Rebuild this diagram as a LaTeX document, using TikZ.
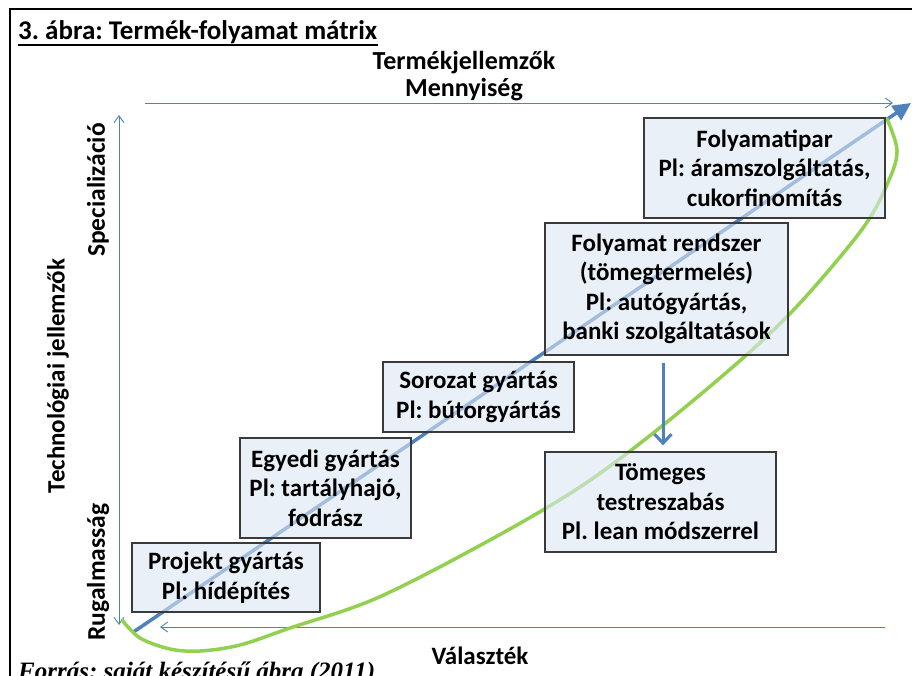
\documentclass[tikz,border=0pt]{standalone}
\usepackage{fontspec}
\setmainfont{Carlito}
\newfontfamily\srcfont{Liberation Serif}
\usetikzlibrary{arrows.meta,calc}
\definecolor{axisblue}{HTML}{4F81BD}
\definecolor{curvegreen}{HTML}{92D050}
\definecolor{boxfill}{HTML}{DCE6F2}
\definecolor{boxline}{HTML}{3A3A3A}
\frenchspacing

\begin{document}
\begin{tikzpicture}[x=1pt,y=-1pt,
  lbl/.style={font=\fontsize{26}{31}\selectfont\bfseries, inner sep=0pt, align=center},
  stagebox/.style={draw=boxline, line width=1.3pt, fill=boxfill, fill opacity=0.6,
    draw opacity=1, text opacity=1, align=center,
    font=\fontsize{25}{29.5}\selectfont\bfseries, inner sep=0pt},
  thinaxis/.style={draw=axisblue, line width=0.9pt,
    arrows={-Straight Barb[length=7pt,width=10pt]}},
  mainarrow/.style={draw=axisblue, line width=3.5pt,
    arrows={-Triangle[length=18pt,width=17pt]}},
  downarrow/.style={draw=axisblue, line width=3pt,
    arrows={-Straight Barb[length=9pt,width=17pt]}},
  trend/.style={draw=curvegreen, line width=3.5pt, line cap=round},
  ]
\useasboundingbox (0,0) rectangle (912,676);
\clip (0,0) rectangle (912,676);

% frame
\draw[line width=2pt] (10,680) -- (10,9) -- (915,9);

% title
\node[anchor=base west, inner sep=0pt, font=\fontsize{27}{32}\selectfont\bfseries]
  (title) at (18,40) {3. ábra: Termék-folyamat mátrix};
\draw[line width=2pt] (title.base west) ++(0,5) -- ($(title.base east)+(0,5)$);

% axis end points
\coordinate (topL) at (145,103);
\coordinate (topR) at (893,103);
\coordinate (vTop) at (119,115);
\coordinate (vBot) at (119,625);
\coordinate (botR) at (885,627);
\coordinate (botL) at (160,627);
\coordinate (dStart) at (132,633);
\coordinate (dEnd) at (911,103);

% axes
\draw[thinaxis] (topL) -- (topR);
\draw[thinaxis, arrows={Straight Barb[length=7pt,width=10pt]-Straight Barb[length=7pt,width=10pt]}] (vBot) -- (vTop);
\draw[thinaxis] (botR) -- (botL);

% axis labels
\node[lbl, anchor=base] (tjl) at (464,70) {Termékjellemzők};
\node[lbl, anchor=base] (mny) at (464,97) {Mennyiség};
\node[lbl, anchor=base, font=\fontsize{25}{30}\selectfont\bfseries] (val) at (480,664) {Választék};
\node[lbl, rotate=90, font=\fontsize{25}{30}\selectfont\bfseries] (tech) at (58,376) {Technológiai jellemzők};
\node[lbl, rotate=90, font=\fontsize{25.5}{30}\selectfont\bfseries] (spec) at (98,190) {Specializáció};
\node[lbl, rotate=90, font=\fontsize{25.5}{30}\selectfont\bfseries] (rug) at (98,572) {Rugalmasság};

% main diagonal trend
\draw[mainarrow] (dStart) -- (dEnd);

% curve
\draw[trend] plot[smooth, tension=0.55] coordinates {
  (122,620) (140,638) (170,649) (200,651) (240,645) (290,628) (377,598)
  (490,540) (580,487) (657,430) (743,358) (800,303) (863,228) (889,180)
  (897,150) (887,119)};

% stages
\node[stagebox, minimum width=188pt, minimum height=69pt] (pj) at (226,577.5)
  {Projekt gyártás\\Pl: hídépítés};
\node[stagebox, minimum width=171pt, minimum height=100pt] (eg) at (325.5,488)
  {Egyedi gyártás\\Pl: tartályhajó,\\fodrász};
\node[stagebox, minimum width=191pt, minimum height=70pt] (so) at (478.5,397)
  {Sorozat gyártás\\Pl: bútorgyártás};
\node[stagebox, minimum width=243pt, minimum height=132pt] (fr) at (666.5,289)
  {Folyamat rendszer\\(tömegtermelés)\\Pl: autógyártás,\\banki szolgáltatások};
\node[stagebox, minimum width=241pt, minimum height=100pt] (fi) at (764.5,168)
  {Folyamatipar\\Pl: áramszolgáltatás,\\cukorfinomítás};
\node[stagebox, minimum width=231pt, minimum height=100pt] (tm) at (660.5,502)
  {Tömeges\\testreszabás\\Pl. lean módszerrel};

% shift towards mass customisation
\draw[downarrow] ($(fr.south)+(-3.5,7)$) -- ($(tm.north)+(2.5,-6)$);

% source line
\node[anchor=base west, inner sep=0pt, font=\srcfont\fontsize{25}{30}\selectfont\bfseries\itshape]
  (src) at (18,679) {Forrás: saját készítésű ábra (2011)};
\end{tikzpicture}
\end{document}
